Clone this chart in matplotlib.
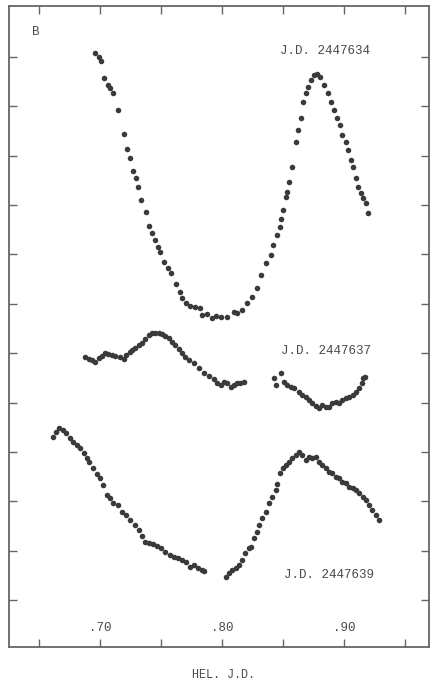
import numpy as np
import matplotlib
matplotlib.use("Agg")
import matplotlib.pyplot as plt

# light curves, heliocentric J.D. fraction vs relative magnitude (brighter = up)
hjd_634 = [0.6959, 0.6986, 0.7006, 0.7035, 0.7068, 0.7077, 0.7105, 0.7146, 0.7198, 0.7220,
           0.7247, 0.7269, 0.7291, 0.7313, 0.7337, 0.7373, 0.7398, 0.7426, 0.7453, 0.7475,
           0.7494, 0.7527, 0.7554, 0.7584, 0.7623, 0.7653, 0.7672, 0.7708, 0.7741, 0.7782,
           0.7823, 0.7837, 0.7878, 0.7919, 0.7947, 0.7988, 0.8043, 0.8097, 0.8125, 0.8166,
           0.8207, 0.8249, 0.8284, 0.8317, 0.8358, 0.8399, 0.8421, 0.8454, 0.8476, 0.8487,
           0.8504, 0.8523, 0.8537, 0.8550, 0.8572, 0.8605, 0.8627, 0.8646, 0.8668, 0.8687,
           0.8706, 0.8728, 0.8756, 0.8784, 0.8805, 0.8838, 0.8871, 0.8893, 0.8920, 0.8948,
           0.8970, 0.8989, 0.9016, 0.9035, 0.9058, 0.9080, 0.9099, 0.9118, 0.9140, 0.9162,
           0.9181, 0.9200]
mag_634 = [0.0913, 0.0994, 0.1075, 0.1432, 0.1567, 0.1634, 0.1736, 0.2074, 0.2566, 0.2870,
           0.3052, 0.3304, 0.3446, 0.3628, 0.3897, 0.4134, 0.4418, 0.4572, 0.4708, 0.4843,
           0.4945, 0.5147, 0.5281, 0.5382, 0.5605, 0.5767, 0.5889, 0.5990, 0.6045, 0.6059,
           0.6092, 0.6227, 0.6207, 0.6294, 0.6247, 0.6262, 0.6262, 0.6160, 0.6193, 0.6126,
           0.5990, 0.5856, 0.5686, 0.5417, 0.5180, 0.5012, 0.4809, 0.4606, 0.4438, 0.4288,
           0.4100, 0.3830, 0.3729, 0.3527, 0.3223, 0.2716, 0.2479, 0.2242, 0.1906, 0.1736,
           0.1602, 0.1466, 0.1365, 0.1345, 0.1411, 0.1567, 0.1736, 0.1906, 0.2074, 0.2242,
           0.2378, 0.2580, 0.2716, 0.2884, 0.3087, 0.3223, 0.3458, 0.3628, 0.3749, 0.3863,
           0.3964, 0.4167]

hjd_637 = [0.6877, 0.6904, 0.6932, 0.6959, 0.6986, 0.7014, 0.7041, 0.7068, 0.7096, 0.7123,
           0.7159, 0.7192, 0.7214, 0.7241, 0.7261, 0.7288, 0.7315, 0.7343, 0.7370, 0.7398,
           0.7426, 0.7453, 0.7480, 0.7508, 0.7535, 0.7562, 0.7590, 0.7617, 0.7644, 0.7672,
           0.7700, 0.7727, 0.7768, 0.7809, 0.7850, 0.7891, 0.7933, 0.7960, 0.7988, 0.8015,
           0.8043, 0.8070, 0.8097, 0.8125, 0.8152, 0.8179,
           0.8426, 0.8440, 0.8481, 0.8509, 0.8537, 0.8564, 0.8591, 0.8632, 0.8660, 0.8687,
           0.8714, 0.8742, 0.8770, 0.8797, 0.8825, 0.8852, 0.8879, 0.8907, 0.8934, 0.8961,
           0.8989, 0.9016, 0.9044, 0.9072, 0.9099, 0.9126, 0.9146, 0.9162, 0.9173]
mag_637 = [0.7072, 0.7125, 0.7139, 0.7173, 0.7105, 0.7058, 0.7003, 0.7017, 0.7037, 0.7058,
           0.7084, 0.7125, 0.7037, 0.6971, 0.6936, 0.6902, 0.6835, 0.6800, 0.6719, 0.6632,
           0.6598, 0.6586, 0.6598, 0.6612, 0.6647, 0.6699, 0.6768, 0.6835, 0.6922, 0.7003,
           0.7072, 0.7139, 0.7206, 0.7307, 0.7408, 0.7463, 0.7530, 0.7611, 0.7645, 0.7578,
           0.7611, 0.7680, 0.7645, 0.7611, 0.7599, 0.7578,
           0.7510, 0.7645, 0.7408, 0.7578, 0.7645, 0.7680, 0.7712, 0.7781, 0.7848, 0.7882,
           0.7949, 0.8004, 0.8071, 0.8117, 0.8050, 0.8085, 0.8097, 0.8016, 0.7983, 0.8016,
           0.7949, 0.7915, 0.7894, 0.7848, 0.7781, 0.7712, 0.7611, 0.7510, 0.7477]

hjd_639 = [0.6616, 0.6638, 0.6665, 0.6693, 0.6720, 0.6753, 0.6780, 0.6808, 0.6835, 0.6863,
           0.6891, 0.6912, 0.6940, 0.6973, 0.7000, 0.7027, 0.7055, 0.7082, 0.7109, 0.7142,
           0.7179, 0.7214, 0.7247, 0.7282, 0.7315, 0.7343, 0.7370, 0.7398, 0.7434, 0.7467,
           0.7500, 0.7535, 0.7570, 0.7603, 0.7636, 0.7672, 0.7705, 0.7735, 0.7768, 0.7801,
           0.7837, 0.7856,
           0.8029, 0.8056, 0.8084, 0.8111, 0.8138, 0.8166, 0.8193, 0.8221, 0.8240, 0.8262,
           0.8284, 0.8303, 0.8331, 0.8358, 0.8385, 0.8413, 0.8440, 0.8454, 0.8476, 0.8504,
           0.8523, 0.8550, 0.8578, 0.8605, 0.8632, 0.8660, 0.8687, 0.8714, 0.8742, 0.8770,
           0.8797, 0.8825, 0.8852, 0.8879, 0.8907, 0.8934, 0.8961, 0.8989, 0.9016, 0.9044,
           0.9072, 0.9099, 0.9126, 0.9154, 0.9181, 0.9208, 0.9236, 0.9263, 0.9291]
mag_639 = [0.8693, 0.8591, 0.8522, 0.8557, 0.8624, 0.8725, 0.8794, 0.8861, 0.8928, 0.9029,
           0.9118, 0.9199, 0.9333, 0.9455, 0.9535, 0.9671, 0.9874, 0.9941, 1.0042, 1.0076,
           1.0212, 1.0279, 1.0380, 1.0482, 1.0583, 1.0698, 1.0820, 1.0852, 1.0873, 1.0901,
           1.0954, 1.1023, 1.1089, 1.1124, 1.1156, 1.1191, 1.1225, 1.1326, 1.1292, 1.1347,
           1.1393, 1.1413,
           1.1529, 1.1460, 1.1393, 1.1359, 1.1292, 1.1191, 1.1055, 1.0954, 1.0921, 1.0751,
           1.0617, 1.0482, 1.0346, 1.0212, 1.0042, 0.9908, 0.9772, 0.9651, 0.9434, 0.9333,
           0.9266, 0.9199, 0.9130, 0.9063, 0.8997, 0.9063, 0.9165, 0.9098, 0.9130, 0.9098,
           0.9199, 0.9266, 0.9333, 0.9402, 0.9434, 0.9503, 0.9535, 0.9605, 0.9637, 0.9706,
           0.9738, 0.9772, 0.9839, 0.9908, 0.9975, 1.0076, 1.0177, 1.0279, 1.0380]

labels = ["J.D. 2447634", "J.D. 2447637", "J.D. 2447639"]
label_pos = [(0.8848, 0.0875), (0.8855, 0.6965), (0.8880, 1.1495)]
xtick_major = [0.70, 0.80, 0.90]
xtick_labels = [".70", ".80", ".90"]
xtick_minor = [0.65, 0.75, 0.85, 0.95]
ytick_pos = [0.1, 0.2, 0.3, 0.4, 0.5, 0.6, 0.7, 0.8, 0.9, 1.0, 1.1, 1.2]

ink = "#3a3a3a"
axis_col = "#666666"
txt_col = "#4a4a4a"
font = "Liberation Mono"

fig = plt.figure(figsize=(4.3, 6.83), dpi=100)
ax = fig.add_axes([9 / 430, 1 - 647 / 683, 420 / 430, 641 / 683])

for xs, ys in [(hjd_634, mag_634), (hjd_637, mag_637), (hjd_639, mag_639)]:
    ax.scatter(xs, ys, s=16, color=ink, linewidths=0, zorder=3)

ax.set_xlim(0.6251, 0.9700)
ax.set_ylim(1.2953, -0.0033)

ax.set_xticks(xtick_major)
ax.set_xticks(xtick_minor, minor=True)
ax.set_xticklabels([])
ax.set_yticks(ytick_pos)
ax.set_yticklabels([])
ax.tick_params(which="both", direction="in", length=6, width=1.0, color=axis_col,
               top=True, right=True, bottom=True, left=True)
for sp in ax.spines.values():
    sp.set_color(axis_col)
    sp.set_linewidth(1.3)

# tick labels sit inside the frame
for xp, lab in zip(xtick_major, xtick_labels):
    ax.text(xp, 0.0296, lab, transform=ax.get_xaxis_transform(), ha="center", va="center",
            fontsize=9, color=txt_col, family=font)

for (lx, ly), lab in zip(label_pos, labels):
    ax.text(lx, ly, lab, ha="center", va="center", fontsize=9, color=txt_col, family=font)

ax.text(0.064, 0.9594, "B", transform=ax.transAxes, ha="center", va="center",
        fontsize=9, color=txt_col, family=font)

fig.text(223 / 430, 1 - 675 / 683, "HEL. J.D.", ha="center", va="center",
         fontsize=8.5, color=txt_col, family=font)

fig.savefig("out.png", dpi=100, facecolor="white")
